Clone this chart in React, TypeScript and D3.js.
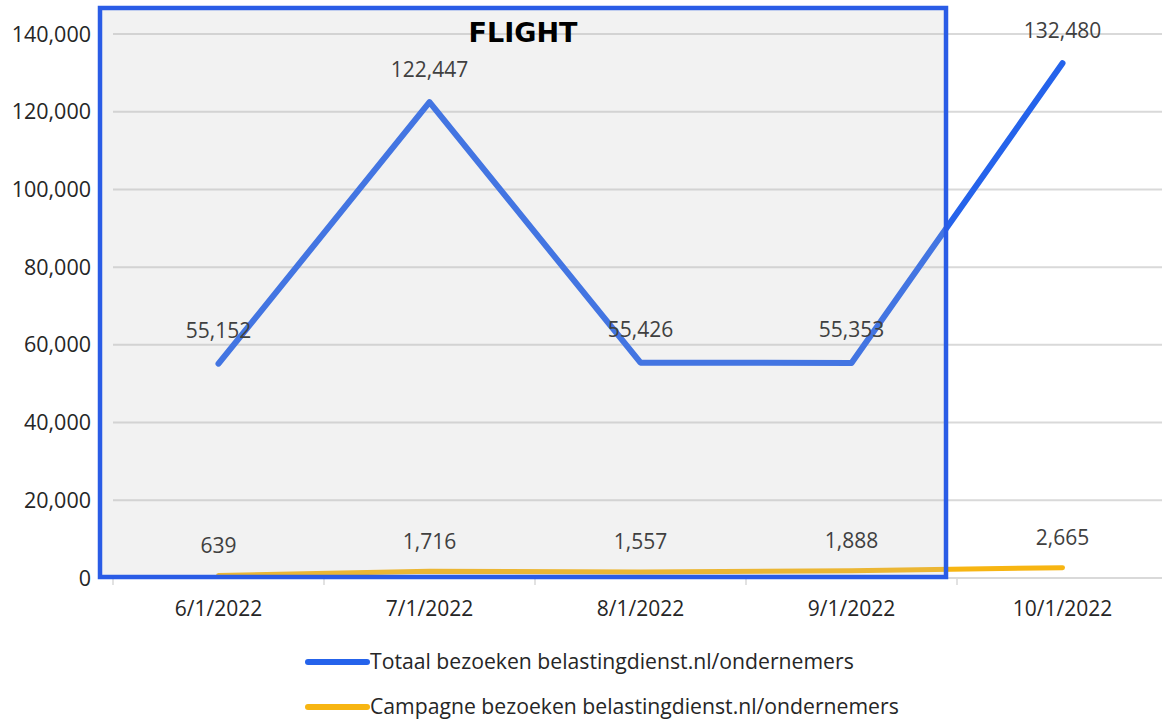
import React from "react";
import * as d3 from "d3";

const categories = ["6/1/2022", "7/1/2022", "8/1/2022", "9/1/2022", "10/1/2022"];
const totaalValues = [55152, 122447, 55426, 55353, 132480];
const campagneValues = [639, 1716, 1557, 1888, 2665];
const yTicks = [0, 20000, 40000, 60000, 80000, 100000, 120000, 140000];
const seriesNames = [
  "Totaal bezoeken belastingdienst.nl/ondernemers",
  "Campagne bezoeken belastingdienst.nl/ondernemers",
];
const flightLabel = "FLIGHT";

const W = 1162;
const H = 720;
const FONT = "'Open Sans', 'Noto Sans', sans-serif";

export default function App() {
  const x = d3.scaleBand<string>().domain(categories).range([113, 1168]).padding(0);
  const y = d3.scaleLinear().domain([0, 140000]).range([578, 34]);
  const cx = (c: string) => (x(c) as number) + x.bandwidth() / 2;
  const fmt = d3.format(",");

  const line = d3
    .line<number>()
    .x((_, i) => cx(categories[i]))
    .y((d) => y(d));

  const colors = ["#2563eb", "#f7b512"];
  const series = [totaalValues, campagneValues];

  const rectLeft = 100;
  const rectRight = 946;
  const rectTop = 8;
  const rectBottom = 577;

  return (
    <svg width={W} height={H} style={{ position: "absolute", left: 0, top: 0, background: "#fff" }}>
      <rect x={0} y={0} width={W} height={H} fill="#fff" />
      {yTicks.map((t) => (
        <line key={t} x1={113} x2={W} y1={y(t)} y2={y(t)} stroke="#d9d9d9" strokeWidth={2} />
      ))}
      {categories.map((c) => (
        <line key={c} x1={x(c) as number} x2={x(c) as number} y1={y(0)} y2={y(0) + 7} stroke="#d9d9d9" strokeWidth={1.5} />
      ))}
      {yTicks.map((t) => (
        <text key={t} x={91} y={y(t)} dy="0.35em" textAnchor="end" fontFamily={FONT} fontSize={21.5} fill="#262626">
          {fmt(t)}
        </text>
      ))}
      {categories.map((c) => (
        <text key={c} x={cx(c)} y={609} dy="0.35em" textAnchor="middle" fontFamily={FONT} fontSize={21} fill="#262626">
          {c}
        </text>
      ))}
      {series.map((s, i) => (
        <path key={i} d={line(s) || ""} fill="none" stroke={colors[i]} strokeWidth={i === 0 ? 6 : 5} strokeLinecap="round" strokeLinejoin="round" />
      ))}
      <rect
        x={rectLeft}
        y={rectTop}
        width={rectRight - rectLeft}
        height={rectBottom - rectTop}
        fill="#bfbfbf"
        fillOpacity={0.2}
        stroke="#2a5ce6"
        strokeWidth={4.5}
      />
      <text x={523} y={33} dy="0.35em" textAnchor="middle" fontFamily="'DejaVu Sans', sans-serif" fontWeight="bold" fontSize={27} fill="#000">
        {flightLabel}
      </text>
      {totaalValues.map((v, i) => (
        <text key={"t" + i} x={cx(categories[i])} y={y(v) - 33} dy="0.35em" textAnchor="middle" fontFamily={FONT} fontSize={21} fill="#404040">
          {fmt(v)}
        </text>
      ))}
      {campagneValues.map((v, i) => (
        <text key={"c" + i} x={cx(categories[i])} y={y(v) - 30} dy="0.35em" textAnchor="middle" fontFamily={FONT} fontSize={21} fill="#404040">
          {fmt(v)}
        </text>
      ))}
      {seriesNames.map((n, i) => (
        <g key={n} transform={`translate(0, ${662 + i * 45})`}>
          <line x1={308} x2={367} y1={0} y2={0} stroke={colors[i]} strokeWidth={6} strokeLinecap="round" />
          <text x={370} y={0} dy="0.35em" fontFamily={FONT} fontSize={21.2} fill="#262626">
            {n}
          </text>
        </g>
      ))}
    </svg>
  );
}
